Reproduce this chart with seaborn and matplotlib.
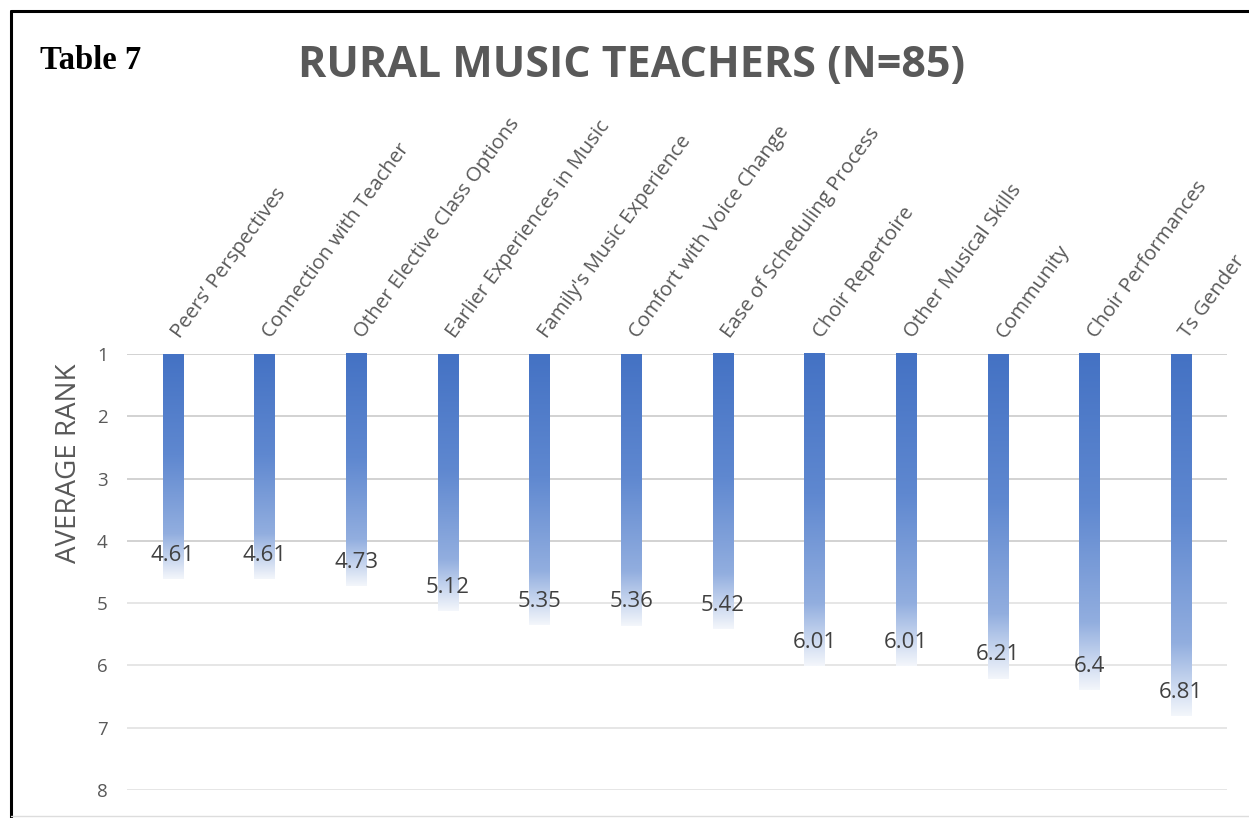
import numpy as np
import pandas as pd
import matplotlib
matplotlib.use("Agg")
import matplotlib.pyplot as plt
from matplotlib.colors import LinearSegmentedColormap
from matplotlib.lines import Line2D
import seaborn as sns

# Average rank of each factor (lower rank = more important)
factors = [
    "Peers\u2019 Perspectives",
    "Connection with Teacher",
    "Other Elective Class Options",
    "Earlier Experiences in Music",
    "Family's Music Experience",
    "Comfort with Voice Change",
    "Ease of Scheduling Process",
    "Choir Repertoire",
    "Other Musical Skills",
    "Community",
    "Choir Performances",
    "Ts Gender",
]
avg_rank = [4.61, 4.61, 4.73, 5.12, 5.35, 5.36, 5.42, 6.01, 6.01, 6.21, 6.4, 6.81]
rank_ticks = [1, 2, 3, 4, 5, 6, 7, 8]

df = pd.DataFrame({"factor": factors, "rank": avg_rank})

sns.set_theme(style="white")
plt.rcParams["font.family"] = ["Open Sans", "DejaVu Sans"]

TXT = "#595959"
fig = plt.figure(figsize=(12.49, 8.18), dpi=100)
ax = fig.add_axes([0.1017, 0.0342, 0.8807, 0.5330])

sns.barplot(data=df, x="factor", y="rank", color="#4472C4", width=0.22,
            ax=ax, zorder=3)

# vertical blue-to-white fill inside every bar
fade = LinearSegmentedColormap.from_list(
    "fade", [(0.0, "#4472C4"), (0.45, "#5f88d0"), (0.8, "#92aedf"), (1.0, "#f3f6fb")])
grad = np.linspace(0, 1, 256).reshape(-1, 1)
for patch, val in zip(ax.patches, avg_rank):
    x0, w = patch.get_x(), patch.get_width()
    im = ax.imshow(grad, cmap=fade, aspect="auto", origin="upper",
                   extent=(x0, x0 + w, val, 1), zorder=3, interpolation="bilinear")
    im.set_clip_path(patch)
    patch.set_facecolor("none")
    patch.set_edgecolor("none")

# value labels just inside the bar ends
for i, val in enumerate(avg_rank):
    ax.annotate(f"{val:g}", (i, val), xytext=(0, 17), textcoords="offset points",
                ha="center", va="center", fontsize=16, color="#404040", zorder=5)

ax.set_xlim(-0.5, len(factors) - 0.5)
ax.set_ylim(rank_ticks[-1], rank_ticks[0])
ax.set_yticks(rank_ticks)
ax.set_yticklabels([str(t) for t in rank_ticks], fontsize=13.5, color=TXT)

# horizontal gridlines
for t in rank_ticks:
    ax.axhline(t, color="#cfcfcf" if t <= 4 else "#e4e4e4", lw=1.3, zorder=1)

# slanted category names above the top of each bar
ax.set_xticks(range(len(factors)))
ax.set_xticklabels([])
for i, name in enumerate(factors):
    ax.annotate(name, (i, rank_ticks[0]), xytext=(5, 11),
                textcoords="offset points", rotation=54, rotation_mode="anchor",
                ha="left", va="baseline", fontsize=14.7, color=TXT,
                annotation_clip=False)
ax.tick_params(axis="x", length=0)
ax.tick_params(axis="y", length=0, pad=14)
ax.set_xlabel("")
ax.set_ylabel("AVERAGE RANK", fontsize=20, color=TXT)
ax.yaxis.set_label_coords(-0.040, 0.75)
for s in ax.spines.values():
    s.set_visible(False)

fig.text(0.506, 0.920, "RURAL MUSIC TEACHERS (N=85)", ha="center", va="center",
         fontsize=31, fontweight="bold", color=TXT)
fig.text(0.032, 0.926, "Table 7", ha="left", va="center", fontsize=23.5,
         fontweight="bold", family="Liberation Serif", color="black")

# page frame
fig.add_artist(Line2D([0.0089, 0.0089], [0.0, 0.9866], transform=fig.transFigure,
                      color="black", lw=2.2))
fig.add_artist(Line2D([0.0089, 1.0], [0.9866, 0.9866], transform=fig.transFigure,
                      color="black", lw=2.2))
fig.add_artist(Line2D([0.0089, 1.0], [0.003, 0.003], transform=fig.transFigure,
                      color="#dddddd", lw=1.0))

fig.savefig("out.png", dpi=100)
